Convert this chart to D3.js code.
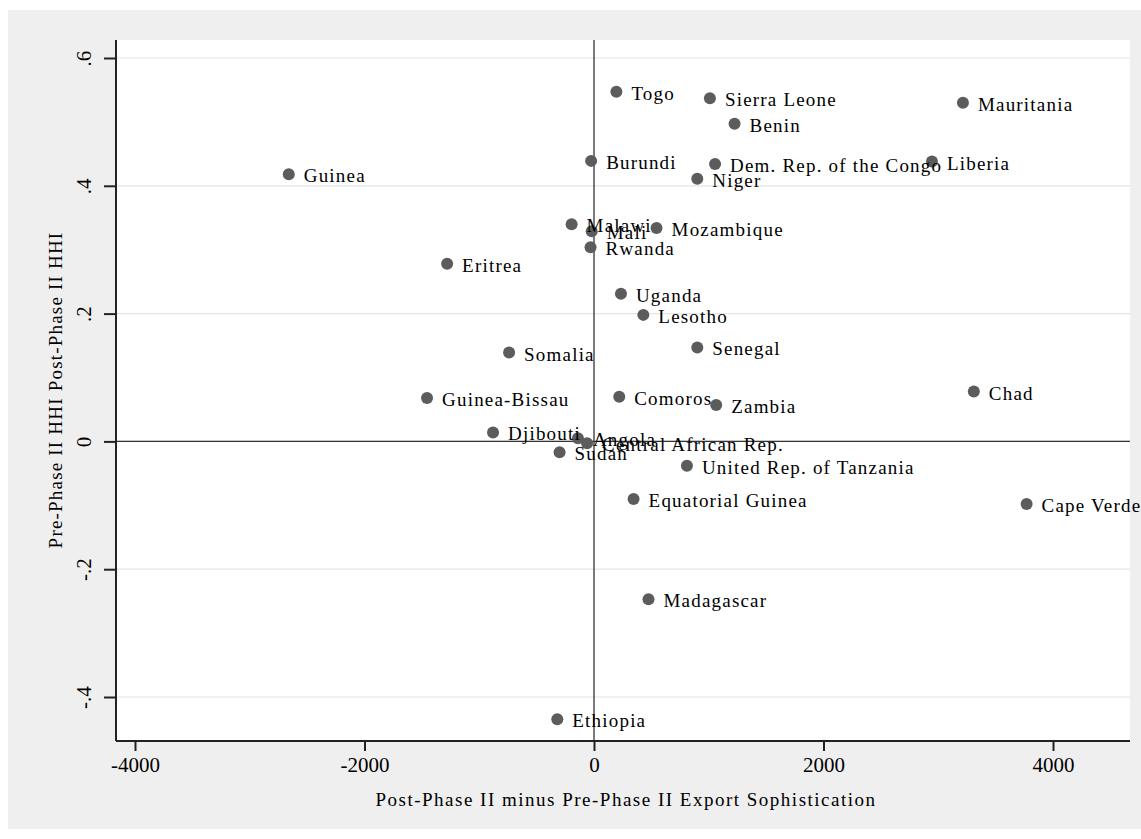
<!DOCTYPE html>
<html>
<head>
<meta charset="utf-8">
<script src="https://cdn.jsdelivr.net/npm/d3@7"></script>
<style>
  html, body { margin: 0; padding: 0; background: #ffffff; }
  svg text { font-family: "Liberation Serif", "Times New Roman", serif; fill: #000; }
</style>
</head>
<body>
<svg id="chart" width="1141" height="839"></svg>
<script>
// ---- data ----
const countries = ["Togo","Sierra Leone","Mauritania","Benin","Burundi","Dem. Rep. of the Congo","Liberia","Niger","Guinea",
  "Malawi","Mali","Mozambique","Rwanda","Eritrea","Uganda","Lesotho","Somalia","Senegal","Guinea-Bissau","Comoros",
  "Zambia","Chad","Djibouti","Angola","Central African Rep.","Sudan","United Rep. of Tanzania","Equatorial Guinea",
  "Cape Verde","Madagascar","Ethiopia"];
const sophisticationChange = [195, 1010, 3215, 1225, -25, 1055, 2945, 900, -2660,
  -195, -20, 545, -30, -1280, 235, 430, -740, 900, -1455, 220,
  1065, 3310, -880, -140, -60, -300, 810, 345,
  3770, 475, -320];
const hhiChange = [0.547, 0.537, 0.530, 0.497, 0.439, 0.434, 0.438, 0.411, 0.418,
  0.340, 0.329, 0.334, 0.304, 0.278, 0.231, 0.198, 0.139, 0.147, 0.068, 0.070,
  0.057, 0.078, 0.014, 0.005, -0.003, -0.017, -0.038, -0.090,
  -0.098, -0.247, -0.435];
const xTicks = [-4000, -2000, 0, 2000, 4000];
const xTickLabels = ["-4000", "-2000", "0", "2000", "4000"];
const yTicks = [-0.4, -0.2, 0, 0.2, 0.4, 0.6];
const yTickLabels = ["-.4", "-.2", "0", ".2", ".4", ".6"];
const xTitle = "Post-Phase II minus Pre-Phase II Export Sophistication";
const yTitle = "Pre-Phase II HHI Post-Phase II HHI";

// ---- layout ----
const svg = d3.select("#chart");
const plot = { left: 116, top: 40, right: 1130, bottom: 741 };

svg.append("rect").attr("x", 8).attr("y", 10).attr("width", 1141 - 8).attr("height", 829 - 10)
  .attr("fill", "#efefef");
svg.append("rect").attr("x", plot.left).attr("y", plot.top)
  .attr("width", plot.right - plot.left).attr("height", plot.bottom - plot.top).attr("fill", "#ffffff");

const x = d3.scaleLinear().domain([-4000, 4000]).range([135, 1053]);
const y = d3.scaleLinear().domain([-0.4, 0.6]).range([697, 58]);

// gridlines
svg.append("g").selectAll("line").data(yTicks).join("line")
  .attr("x1", plot.left).attr("x2", plot.right)
  .attr("y1", d => y(d)).attr("y2", d => y(d))
  .attr("stroke", "#e4e4e4").attr("stroke-width", 1.2);

// reference lines at 0
svg.append("line").attr("x1", plot.left).attr("x2", plot.right)
  .attr("y1", y(0)).attr("y2", y(0)).attr("stroke", "#333").attr("stroke-width", 1.3);
svg.append("line").attr("x1", x(0)).attr("x2", x(0))
  .attr("y1", plot.top).attr("y2", plot.bottom).attr("stroke", "#333").attr("stroke-width", 1.3);

// axes
const xAxis = d3.axisBottom(x).tickValues(xTicks).tickSize(10).tickPadding(6).tickFormat((d, i) => xTickLabels[i]);
const gx = svg.append("g").attr("transform", `translate(0,${plot.bottom})`).call(xAxis);
gx.select(".domain").attr("d", `M${plot.left},0H${plot.right}`).attr("stroke", "#222").attr("stroke-width", 2);
gx.selectAll(".tick line").attr("stroke", "#222").attr("stroke-width", 2);
gx.selectAll(".tick text").attr("font-size", 21).attr("font-family", "Liberation Serif").attr("fill", "#000");

const yAxis = d3.axisLeft(y).tickValues(yTicks).tickSize(12).tickFormat((d, i) => yTickLabels[i]);
const gy = svg.append("g").attr("transform", `translate(${plot.left},0)`).call(yAxis);
gy.select(".domain").attr("d", `M0,${plot.top}V${plot.bottom}`).attr("stroke", "#222").attr("stroke-width", 2);
gy.selectAll(".tick line").attr("stroke", "#222").attr("stroke-width", 2);
gy.selectAll(".tick text")
  .attr("font-size", 21).attr("font-family", "Liberation Serif").attr("fill", "#000")
  .attr("x", null).attr("dy", null)
  .attr("text-anchor", "middle")
  .attr("transform", "translate(-32,0) rotate(-90)")
  .attr("dy", "0.35em");

// axis titles
svg.append("text").attr("x", 626).attr("y", 806).attr("text-anchor", "middle")
  .attr("font-size", 19).attr("letter-spacing", 1.5).text(xTitle);
svg.append("text").attr("transform", "translate(62,390) rotate(-90)").attr("text-anchor", "middle")
  .attr("font-size", 19).attr("letter-spacing", 1.2).text(yTitle);

// points
const data = countries.map((c, i) => ({ name: c, x: sophisticationChange[i], y: hhiChange[i] }));
svg.append("g").selectAll("circle").data(data).join("circle")
  .attr("cx", d => x(d.x)).attr("cy", d => y(d.y)).attr("r", 6).attr("fill", "#5c5c5c");
svg.append("g").selectAll("text").data(data).join("text")
  .attr("x", d => x(d.x) + 15).attr("y", d => y(d.y) + 8)
  .attr("font-size", 19).attr("letter-spacing", 1.2).text(d => d.name);
</script>
</body>
</html>
